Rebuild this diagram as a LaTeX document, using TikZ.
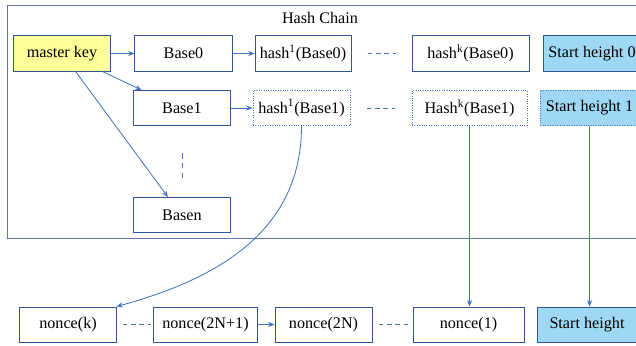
\documentclass[tikz,border=0pt]{standalone}
\usepackage{fontspec}
\setmainfont{Liberation Serif}
\usepackage{tikz}
\usetikzlibrary{arrows.meta,calc}
\definecolor{boxblue}{HTML}{2F5597}
\definecolor{linkblue}{HTML}{4472C4}
\definecolor{keyyellow}{HTML}{FFFF99}
\definecolor{startblue}{HTML}{9FD8F5}
\definecolor{framegray}{HTML}{5F78B0}

\begin{document}
\begin{tikzpicture}[x=0.025cm,y=-0.025cm,>={Stealth[length=1.6mm,width=1.3mm]},
  box/.style={draw=boxblue,line width=0.7pt,minimum height=0.875cm,inner sep=2pt,font=\fontsize{11.5}{13}\selectfont},
  dotbox/.style={box,draw=linkblue,densely dotted},
  link/.style={->,draw=linkblue,line width=0.6pt},
  gap/.style={draw=linkblue,line width=0.7pt,dash pattern=on 3.5pt off 2.5pt}]
\useasboundingbox (0,0) rectangle (636,346);
\draw[draw=framegray,line width=0.6pt] (7,5) rectangle (680,238);
\node[font=\fontsize{11.5}{13}\selectfont] (title) at (320,18) {Hash Chain};
\node[box,fill=keyyellow,minimum width=2.4cm] (mk) at (62,53.5) {master key};
\node[box,minimum width=2.425cm] (base0) at (183.5,53.5) {Base0};
\node[box,minimum width=2.4cm] (hb0) at (303,53.5) {hash\textsuperscript{1}(Base0)};
\node[box,minimum width=2.925cm] (hkb0) at (470.5,53.5) {hash\textsuperscript{k}(Base0)};
\node[box,fill=startblue,minimum width=2.45cm] (sh0) at (592,53.5) {Start height 0};
\node[box,minimum width=2.4cm] (base1) at (182,108) {Base1};
\node[dotbox,minimum width=2.425cm] (hb1) at (301.5,108) {hash\textsuperscript{1}(Base1)};
\node[dotbox,minimum width=2.875cm] (hkb1) at (469.5,108) {Hash\textsuperscript{k}(Base1)};
\node[dotbox,fill=startblue,minimum width=2.45cm] (sh1) at (589.5,108) {Start height 1};
\node[box,minimum width=2.4cm] (basen) at (182,215) {Basen};
\node[box,minimum width=2.4cm] (nk) at (68,324.5) {nonce(k)};
\node[box,minimum width=2.575cm] (n2n1) at (205.5,324.5) {nonce(2N+1)};
\node[box,minimum width=2.425cm] (n2n) at (323.5,324.5) {nonce(2N)};
\node[box,minimum width=2.775cm] (n1) at (468.5,324.5) {nonce(1)};
\node[box,fill=startblue,minimum width=2.5cm] (sh) at (587,324.5) {Start height};
\draw[link] (mk) -- (base0);
\draw[link] (mk.-24) -- (base1.156);
\draw[link] (mk.-53) -- (basen.128);
\draw[link] (base0) -- (hb0);
\draw[link] (base1) -- (hb1);
\draw[gap,shorten <=4mm,shorten >=3.75mm] (hb0) -- (hkb0);
\draw[gap,shorten <=4mm,shorten >=4mm] (hb1) -- (hkb1);
\draw[gap,dash pattern=on 4pt off 3pt,shorten <=6.75mm,shorten >=4.75mm] (base1.south) -- (basen.north);
\draw[link] (hb1.south) .. controls +(0,104) and +(103,-28) .. (nk.north east);
\draw[link] (hkb1.south) -- (hkb1.south |- n1.north);
\draw[link] (sh1.south) -- (sh1.south |- sh.north);
\draw[gap,shorten <=1.5mm,shorten >=0.5mm] (nk) -- (n2n1);
\draw[link] (n2n1) -- (n2n);
\draw[gap,shorten <=1.5mm,shorten >=1.25mm] (n2n) -- (n1);
\end{tikzpicture}
\end{document}
